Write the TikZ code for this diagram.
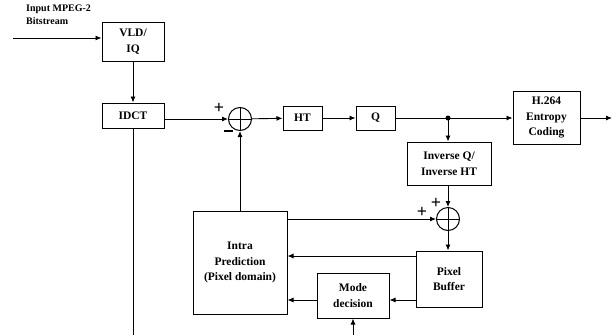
\documentclass[tikz,border=0pt]{standalone}
\usepackage{fontspec}
\setmainfont{Liberation Serif}
\usepackage{tikz}
\usetikzlibrary{arrows.meta,positioning}
\tikzset{
  flowarrow/.style={-{Latex[length=6pt,width=5pt]},line width=0.9pt},
  plainline/.style={line width=0.9pt},
  block/.style={draw,line width=1pt,align=center,inner sep=0pt,font=\fontsize{11.5}{15.5}\selectfont\bfseries},
  summer/.style={draw,circle,line width=1pt,minimum size=23pt,inner sep=0pt,
    path picture={\draw[line width=0.9pt] (path picture bounding box.north) -- (path picture bounding box.south)
      (path picture bounding box.west) -- (path picture bounding box.east);}},
  sign/.style={font=\fontsize{18}{18}\selectfont\bfseries,inner sep=0pt},
  junction/.style={circle,fill,minimum size=5pt,inner sep=0pt}
}
\begin{document}
\begin{tikzpicture}[x=1pt,y=-1pt]
  \useasboundingbox (0,0) rectangle (613,335);

  % blocks
  \node[block,minimum width=62pt,minimum height=39pt] (vld) at (133,41.5) {VLD/\\IQ};
  \node[block,minimum width=62pt,minimum height=25pt] (idct) at (133,115.5) {IDCT};
  \node[summer] (sum1) at (240,119) {};
  \node[block,minimum width=39pt,minimum height=24pt] (ht) at (302.5,118) {HT};
  \node[block,minimum width=39pt,minimum height=24pt] (q) at (375.5,118) {Q};
  \node[junction] (tap) at (448,118) {};
  \node[block,minimum width=67pt,minimum height=53pt] (entropy) at (546.5,117.5) {H.264\\Entropy\\Coding};
  \node[block,minimum width=84pt,minimum height=43pt] (invq) at (449,163.5) {Inverse Q/\\Inverse HT};
  \node[summer] (sum2) at (448,219) {};
  \node[block,minimum width=94pt,minimum height=103pt] (intra) at (240,262.5) {Intra\\Prediction\\(Pixel domain)};
  \node[block,minimum width=66pt,minimum height=56pt] (pixbuf) at (449,279) {Pixel\\Buffer};
  \node[block,minimum width=72pt,minimum height=45pt] (mode) at (353,295.5) {Mode\\decision};

  \node[align=left,inner sep=0pt,anchor=north west,font=\fontsize{10}{12.5}\selectfont\bfseries] (intext) at (26,5) {Input MPEG-2\\Bitstream};

  \coordinate (in) at (13,38);
  \coordinate (out) at (612,118);
  \coordinate (idctend) at (133,335);
  \coordinate (modein) at (353,335);

  % connections
  \draw[flowarrow] (in) -- (vld.west |- in);
  \draw[flowarrow] (vld) -- (idct);
  \draw[plainline] (idct.south) -- (idctend);
  \draw[flowarrow] (idct.east |- sum1) -- (sum1.west);
  \draw[flowarrow] (intra.north) -- (sum1.south);
  \draw[flowarrow] (sum1) -- (ht);
  \draw[flowarrow] (ht) -- (q);
  \draw[plainline] (q) -- (tap.center);
  \draw[flowarrow] (tap.center) -- (entropy.west |- tap);
  \draw[flowarrow] (entropy.east |- out) -- (out);
  \draw[flowarrow] (tap.center) -- (invq.north -| tap);
  \draw[flowarrow] (invq.south -| sum2) -- (sum2.north);
  \draw[flowarrow] (intra.east |- sum2) -- (sum2.west);
  \draw[flowarrow] (sum2.south) -- (pixbuf.north -| sum2);
  \draw[flowarrow] (pixbuf.west |- 0,256) -- (intra.east |- 0,256);
  \draw[flowarrow] (pixbuf.west |- 0,300) -- (mode.east |- 0,300);
  \draw[flowarrow] (mode.west |- 0,300) -- (intra.east |- 0,300);
  \draw[flowarrow] (modein) -- (mode.south);

  % signs
  \node[sign] (p1) at (219,108) {+};
  \node[sign] (m1) at (228,133) {\rule[4pt]{9pt}{1.4pt}};
  \node[sign] (p2) at (422,212) {+};
  \node[sign] (p3) at (436,203) {+};
\end{tikzpicture}
\end{document}
